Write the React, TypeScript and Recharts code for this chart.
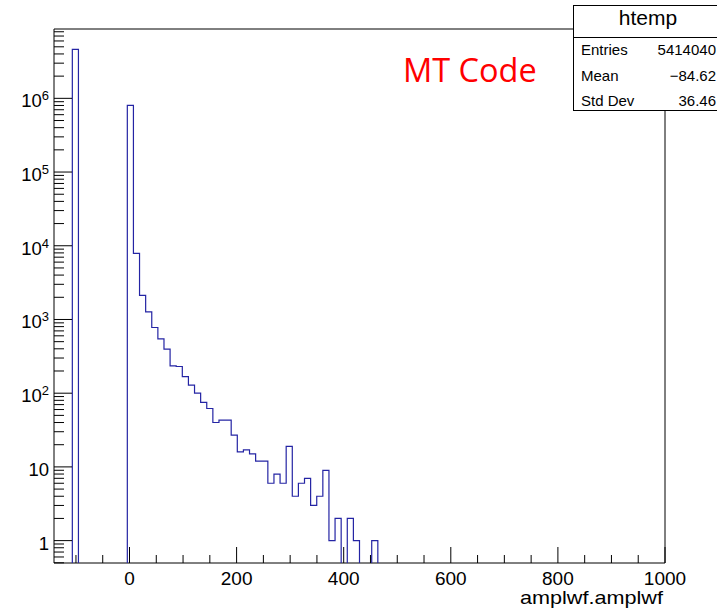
import { LineChart, Line, XAxis, YAxis, ReferenceArea } from "recharts";

const binLow = -141;
const binHigh = 1000;
const nBins = 100;
const binWidth = (binHigh - binLow) / nBins;

// entries per bin of htemp (amplwf.amplwf)
const counts = [
  0, 0, 0, 4620000, 0, 0, 0, 0, 0, 0,
  0, 0, 803000, 7870, 2120, 1268, 778, 546, 395, 234,
  230, 168, 129, 100, 75, 62, 40, 43, 43, 27,
  16, 17, 15, 12, 12, 6, 8, 6, 19, 4,
  6, 7, 3, 4, 9, 1, 2, 0, 2, 1,
  0, 0, 1, 0, 0, 0, 0, 0, 0, 0,
  0, 0, 0, 0, 0, 0, 0, 0, 0, 0,
  0, 0, 0, 0, 0, 0, 0, 0, 0, 0,
  0, 0, 0, 0, 0, 0, 0, 0, 0, 0,
  0, 0, 0, 0, 0, 0, 0, 0, 0, 0,
];

const xTicks = [
  -100, -50, 0, 50, 100, 150, 200, 250, 300, 350, 400, 450, 500,
  550, 600, 650, 700, 750, 800, 850, 900, 950, 1000,
];
const xLabelled = [0, 200, 400, 600, 800, 1000];
const yDecades = [1, 10, 100, 1000, 10000, 100000, 1000000];
const yMin = 0.497;
const yMax = 8.72e6;

const statRows = [
  { name: "Entries", value: "5414040" },
  { name: "Mean", value: "\u221284.62" },
  { name: "Std Dev", value: "36.46" },
];

// empty bins sit below the log axis and get clipped
const FLOOR = 0.01;

const rows = counts.map((c, i) => ({ x: binLow + i * binWidth, y: c > 0 ? c : FLOOR }));
rows.push({ x: binHigh, y: rows[rows.length - 1].y });

const yTicks: number[] = [];
[0.1, ...yDecades].forEach((d) => {
  for (let k = 1; k <= 9; k++) {
    const v = d * k;
    if (v >= yMin && v <= yMax) yTicks.push(v);
  }
});

const FONT = '"Liberation Sans", Arial, Helvetica, sans-serif';

function XTick(props: any) {
  const { x, y, payload } = props;
  const v = payload.value;
  const major = xLabelled.includes(v);
  return (
    <g>
      <line x1={x} x2={x} y1={y} y2={y - (major ? 16 : 8)} stroke="#000" strokeWidth={1} />
      {major && (
        <text x={x} y={y + 22} textAnchor="middle" fontSize={19} fontFamily={FONT} fill="#000">
          {v}
        </text>
      )}
    </g>
  );
}

function YTick(props: any) {
  const { x, y, payload } = props;
  const v = payload.value;
  const e = Math.round(Math.log10(v));
  const major = yDecades.includes(v);
  return (
    <g>
      <line x1={x} x2={x + (major ? 18 : 10)} y1={y} y2={y} stroke="#000" strokeWidth={1} />
      {major && (
        <text x={x - 5} y={y + 9} textAnchor="end" fontSize={18.5} fontFamily={FONT} fill="#000">
          {e === 0 ? "1" : "10"}
          {e >= 2 && (
            <tspan dy={-7} fontSize={13}>
              {e}
            </tspan>
          )}
        </text>
      )}
    </g>
  );
}

function StatBox() {
  return (
    <svg
      width={717}
      height={613}
      style={{ position: "absolute", left: 0, top: 0, pointerEvents: "none" }}
    >
      <rect x={573.5} y={5.5} width={150} height={105} fill="#fff" stroke="#000" />
      <line x1={573.5} x2={720} y1={37.5} y2={37.5} stroke="#000" />
      <text x={648} y={25} textAnchor="middle" fontSize={21} fontFamily={FONT} fill="#000">
        htemp
      </text>
      {statRows.map((r, i) => (
        <g key={r.name}>
          <text x={581} y={55 + i * 25.5} fontSize={15} fontFamily={FONT} fill="#000">
            {r.name}
          </text>
          <text x={716} y={55 + i * 25.5} textAnchor="end" fontSize={15} fontFamily={FONT} fill="#000">
            {r.value}
          </text>
        </g>
      ))}
      <text x={403} y={82} fontSize={32.5} fontFamily='"Open Sans", sans-serif' fill="#ff0000">
        MT Code
      </text>
      <text
        x={520}
        y={604}
        fontSize={19}
        fontFamily={FONT}
        fill="#000"
        textLength={143}
        lengthAdjust="spacingAndGlyphs"
      >
        amplwf.amplwf
      </text>
    </svg>
  );
}

export default function App() {
  return (
    <div style={{ position: "absolute", left: 0, top: 0, width: 717, height: 613, background: "#fff" }}>
      <LineChart
        width={717}
        height={613}
        data={rows}
        margin={{ top: 29, right: 52, bottom: 0, left: 0 }}
      >
        <XAxis
          type="number"
          dataKey="x"
          domain={[binLow, binHigh]}
          allowDataOverflow
          ticks={xTicks}
          interval={0}
          tick={<XTick />}
          tickLine={false}
          axisLine={false}
          tickSize={0}
          tickMargin={0}
          height={50}
        />
        <YAxis
          type="number"
          scale="log"
          domain={[yMin, yMax]}
          allowDataOverflow
          ticks={yTicks}
          interval={0}
          tick={<YTick />}
          tickLine={false}
          axisLine={false}
          tickSize={0}
          tickMargin={0}
          width={54}
        />
        <ReferenceArea
          x1={binLow}
          x2={binHigh}
          y1={yMin}
          y2={yMax}
          fill="none"
          stroke="#000"
          strokeWidth={1}
          ifOverflow="visible"
        />
        <Line
          type="stepAfter"
          dataKey="y"
          stroke="#2424a4"
          strokeWidth={1.2}
          dot={false}
          activeDot={false}
          isAnimationActive={false}
        />
      </LineChart>
      <StatBox />
    </div>
  );
}
